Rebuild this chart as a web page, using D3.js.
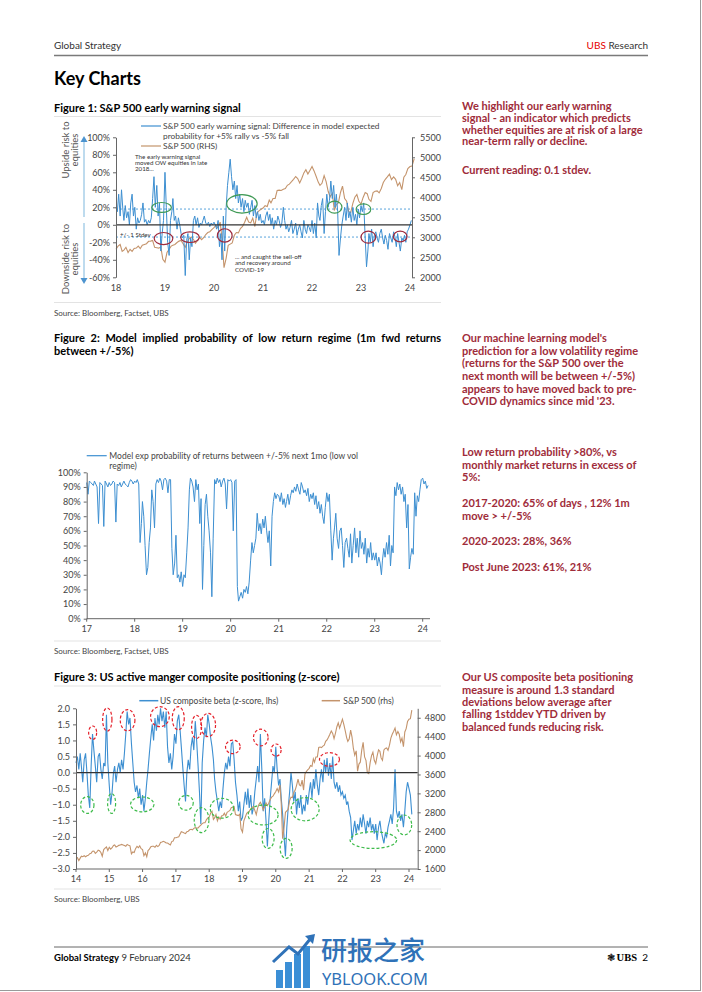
<!DOCTYPE html>
<html><head><meta charset="utf-8">
<script src="https://cdn.jsdelivr.net/npm/d3@7"></script>
<style>
html,body{margin:0;padding:0;background:#fff}
svg{display:block}
</style>
</head><body>
<svg id="page" width="702" height="992"></svg>
<script>
// ---------------- DATA ----------------
// S&P 500, twice a month (1st, 16th) from Jan 2014 to Feb 2024
const spx = [
1840,1840,1780,1830,1870,1860,1880,1860,1880,1890,1925,1935,1975,1980,1930,1955,2000,1985,1950,1870,2010,2040,2065,1990,
2060,2020,2050,2100,2110,2065,2080,2100,2110,2120,2110,2095,2080,2120,2100,2090,1920,1960,1950,2030,2080,2050,2090,2030,
2010,1880,1940,1860,1990,2020,2070,2080,2080,2060,2100,2075,2100,2160,2170,2185,2170,2150,2150,2130,2110,2180,2190,2260,
2260,2270,2280,2340,2390,2380,2360,2350,2390,2400,2430,2440,2430,2460,2475,2465,2470,2500,2530,2560,2580,2580,2640,2680,
2700,2780,2820,2650,2680,2750,2620,2700,2650,2720,2730,2780,2720,2800,2820,2840,2900,2905,2920,2750,2740,2730,2760,2450,
2380,2620,2700,2780,2800,2820,2870,2905,2920,2840,2750,2890,2970,3010,2950,2850,2920,3000,2940,2990,3070,3120,3140,3190,
3240,3300,3230,3380,2980,2240,2480,2800,2830,2860,3050,3120,3110,3220,3270,3370,3500,3380,3360,3480,3270,3610,3660,3700,
3730,3790,3770,3930,3860,3970,3970,4170,4180,4170,4200,4220,4300,4330,4390,4450,4520,4470,4360,4470,4610,4690,4580,4670,
4770,4660,4520,4380,4300,4350,4540,4390,4150,4010,4100,3670,3820,3860,4120,4280,3970,3900,3640,3620,3850,4000,4070,3900,
3830,3990,4120,4090,3950,3900,4120,4150,4160,4110,4220,4370,4450,4510,4580,4440,4510,4450,4290,4370,4190,4500,4570,4720,
4770,4780,4960];

// Figure 1: early warning signal (%), three readings a month from Jan 2018
const warnSignal = [
20,15,35,10,40,18,5,22,8,15,0,25,35,10,20,-5,8,2,5,12,25,3,6,0,5,2,8,30,55,20,45,10,25,-30,-10,5,
60,20,-20,-35,5,15,30,5,10,-5,8,0,-10,-15,-12,-58,-18,-10,-40,-15,-25,5,10,0,8,-3,2,0,5,10,2,0,3,-2,2,0,
3,0,-5,5,-25,-10,-40,10,-30,20,45,60,75,55,40,50,30,45,25,35,20,30,15,28,20,25,12,20,28,10,22,8,15,5,12,2,
5,0,10,15,5,12,0,8,-5,5,0,10,5,-3,2,20,5,-5,0,-8,-3,5,-10,-5,2,-12,-5,0,-8,-15,5,-5,-10,0,-3,-8,
5,-10,2,-15,25,10,5,22,30,-10,15,35,20,28,50,30,45,20,35,15,-35,-15,0,10,20,5,25,8,15,3,20,5,12,0,18,8,
22,15,25,-15,-48,-30,-10,-20,-5,-25,-12,-8,-15,-20,-10,-5,-15,-22,-12,-18,-28,-10,-15,-20,-8,-14,-25,-10,-20,-30,-15,-18,-12,-20,-8,-5,
0,5];
const stdevBand = [18, -14];
const fig1LeftTicks = [-60,-40,-20,0,20,40,60,80,100];
const fig1RightTicks = [2000,2500,3000,3500,4000,4500,5000,5500];
const fig1Years = [2018,2019,2020,2021,2022,2023,2024];
// ellipses: [year, value, half-width (yr), half-height (value)]
const fig1Green = [[2018.93,19.8,0.20,5.7],[2020.57,24,0.31,10.6],[2022.46,20.2,0.15,6.9],[2023.05,17.9,0.15,6.1]];
const fig1Red = [[2018.97,-15.7,0.19,6.9],[2019.51,-14.1,0.19,6.1],[2020.22,-12.2,0.15,7.7],[2023.15,-14.1,0.15,6.9],[2023.80,-13.4,0.14,6.1]];

// Figure 2: probability of low-return regime (%), three readings a month from Jan 2017
const lowVolProb = [
93,85,94,93,92,91,94,92,90,65,93,92,91,63,94,92,90,93,91,92,94,93,66,92,91,93,90,92,94,92,91,90,93,95,94,92,
94,93,95,92,52,65,80,70,50,30,35,52,62,88,80,62,92,95,93,96,94,88,95,96,94,86,95,95,48,30,38,57,28,30,25,32,
22,30,28,45,62,88,96,94,90,80,95,88,92,65,82,20,50,78,85,70,60,45,15,55,95,92,96,93,95,90,94,96,92,75,95,94,
95,93,60,94,95,22,12,15,18,14,20,18,22,17,25,40,52,45,50,55,72,60,65,58,68,62,70,60,52,60,36,70,80,86,82,85,
84,80,86,78,82,76,80,85,78,84,88,86,90,87,92,88,85,93,90,86,88,84,89,80,85,82,86,78,84,75,80,72,78,70,65,76,
86,80,85,60,40,55,62,72,55,48,60,62,50,35,52,55,48,42,58,38,50,62,45,55,42,60,48,52,44,55,38,48,42,52,40,45,
40,45,36,42,38,30,40,48,42,52,44,57,36,50,45,90,84,93,88,92,85,90,80,85,62,78,34,42,48,44,86,70,84,80,88,95,
96,92,94,89,91];
const fig2Ticks = [0,10,20,30,40,50,60,70,80,90,100];
const fig2Years = [2017,2018,2019,2020,2021,2022,2023,2024];

// Figure 3: US composite beta z-score, twice a month from Jan 2014
const betaZ = [
0.3,0.5,0.1,0.6,0.2,-0.3,0.4,0.6,0.0,-0.7,-1.1,0.2,1.2,0.7,0.2,-0.3,0.5,0.6,0.1,-0.2,0.3,0.2,1.8,0.3,
-0.4,-1.0,-0.6,0.0,0.2,-0.3,0.1,0.3,0.0,0.4,0.1,0.6,1.2,1.9,1.5,1.7,0.9,0.3,-0.3,-0.6,-0.4,-0.8,-0.5,-1.0,
-0.7,-1.2,-0.8,-0.3,0.1,0.6,1.1,1.5,1.0,1.7,1.3,1.8,1.5,2.0,1.6,1.9,1.4,1.9,0.8,0.3,0.6,0.1,0.5,1.2,
0.9,1.6,1.8,1.3,0.8,0.2,-0.4,-0.9,0.0,0.4,0.1,0.8,1.1,0.7,1.6,1.0,0.2,-0.6,-1.6,0.3,1.0,1.4,1.1,1.8,
1.5,1.1,0.8,0.4,-0.2,-0.6,-0.9,-1.2,-0.9,-1.1,-0.5,0.0,0.3,0.1,0.5,0.2,0.9,0.95,0.4,-0.3,-0.7,-1.2,-0.9,-1.5,
-1.4,-1.0,-0.6,-1.0,-0.5,-1.1,-0.7,-1.3,-1.1,-0.6,-0.2,0.2,-0.3,1.2,0.1,-1.2,-0.8,-1.5,-2.3,-1.5,-0.8,-0.3,0.2,0.0,
0.8,0.1,-0.4,-0.2,-0.8,-1.3,-2.0,-2.6,-1.7,-1.1,-0.6,0.0,-0.4,-0.9,-0.6,-1.3,-0.8,-1.1,-0.7,-1.3,-1.0,-1.2,-0.7,-1.0,
-0.6,-0.3,-0.8,-0.2,-0.5,0.1,-0.4,-0.7,-0.2,0.1,-0.3,0.4,0.0,0.45,-0.1,0.3,-0.2,0.5,-0.3,-0.5,-0.3,-0.6,-0.4,-0.7,
-0.6,-0.8,-0.7,-1.0,-0.9,-1.2,-1.4,-2.1,-1.8,-1.5,-1.9,-1.6,-1.8,-1.4,-1.7,-1.3,-1.6,-1.9,-1.5,-1.7,-1.4,-1.8,-1.6,-1.9,
-1.6,-2.1,-1.7,-1.5,-1.8,-2.0,-2.2,-1.9,-2.0,-1.7,-1.5,-1.3,-1.6,-1.1,0.1,-1.2,-1.4,-1.2,-1.5,-1.3,-1.7,-1.2,-0.6,-0.3,
-0.5,-0.7,-1.3];
const fig3LeftTicks = [-3.0,-2.5,-2.0,-1.5,-1.0,-0.5,0.0,0.5,1.0,1.5,2.0];
const fig3RightTicks = [1600,2000,2400,2800,3200,3600,4000,4400,4800];
const fig3Years = [2014,2015,2016,2017,2018,2019,2020,2021,2022,2023,2024];
const fig3Red = [[2014.50,1.24,0.12,0.21],[2014.94,1.65,0.14,0.36],[2015.55,1.63,0.22,0.33],[2016.52,1.74,0.28,0.31],
  [2017.07,1.69,0.18,0.36],[2017.62,1.42,0.15,0.36],[2017.97,1.48,0.22,0.36],[2018.71,0.80,0.22,0.21],
  [2019.55,1.09,0.22,0.26],[2020.01,0.70,0.15,0.19],[2021.61,0.41,0.30,0.21]];
const fig3Green = [[2014.34,-1.01,0.20,0.26],[2015.07,-0.96,0.12,0.31],[2015.99,-0.99,0.35,0.23],[2017.30,-0.94,0.22,0.23],
  [2017.77,-1.48,0.22,0.39],[2018.38,-1.11,0.35,0.31],[2019.62,-1.32,0.45,0.31],[2019.77,-2.05,0.18,0.31],
  [2020.31,-2.36,0.18,0.31],[2020.88,-1.14,0.42,0.36],[2022.93,-2.10,0.70,0.26],[2023.86,-1.63,0.22,0.31]];

// ---------------- HELPERS ----------------
const FONT = "Lato, 'Open Sans', 'Noto Sans', sans-serif";
const BLUE = '#3d8fd1', BROWN = '#c4946c', AXIS = '#666', TXT = '#444', RED_TXT = '#a02c3a';
const svg = d3.select('#page');
const spxDate = i => new Date(2014, Math.floor(i/2), i%2 ? 16 : 1);
const triDate = (y0, i) => new Date(y0, Math.floor(i/3), 1 + (i%3)*10);
const yd = y => { const f = Math.floor(y); const a = new Date(f,0,1), b = new Date(f+1,0,1); return new Date(+a + (y-f)*(b-a)); };

function txt(x, y, s, o = {}) {
  const t = svg.append('text').attr('x', x).attr('y', y).text(s)
    .attr('font-family', o.family || FONT).attr('font-size', o.size || 10)
    .attr('fill', o.fill || '#000').attr('font-weight', o.weight || 400)
    .attr('dominant-baseline', 'central');
  if (o.anchor) t.attr('text-anchor', o.anchor);
  return t;
}
function hline(x1, x2, y, color, w, dash) {
  const l = svg.append('line').attr('x1', x1).attr('x2', x2).attr('y1', y).attr('y2', y)
    .attr('stroke', color).attr('stroke-width', w || 1);
  if (dash) l.attr('stroke-dasharray', dash);
  return l;
}
function vline(x, y1, y2, color, w) {
  return svg.append('line').attr('x1', x).attr('x2', x).attr('y1', y1).attr('y2', y2)
    .attr('stroke', color).attr('stroke-width', w || 1);
}
function justify(words, x0, x1, y, o) {
  const nodes = words.map(w => txt(0, y, w, o));
  const ws = nodes.map(n => n.node().getComputedTextLength());
  const gap = (x1 - x0 - d3.sum(ws)) / (words.length - 1);
  let x = x0;
  nodes.forEach((n, i) => { n.attr('x', x); x += ws[i] + gap; });
}
function lines(x, ys, arr, o) { arr.forEach((s, i) => txt(x, ys[i], s, o)); }
function yAxis(scale, ticks, x, side, fmt, o = {}) {
  const ax = (side === 'left' ? d3.axisLeft(scale) : d3.axisRight(scale))
    .tickValues(ticks).tickFormat(fmt).tickSize(3).tickSizeOuter(0).tickPadding(o.pad || 3);
  const g = svg.append('g').attr('transform', `translate(${x},0)`).call(ax);
  g.select('.domain').attr('stroke', AXIS);
  g.selectAll('.tick line').attr('stroke', AXIS);
  g.selectAll('text').attr('font-family', FONT).attr('font-size', o.size || 9).attr('fill', TXT);
  return g;
}
function xLabels(scale, years, y, o = {}) {
  years.forEach(yr => txt(scale(new Date(yr,0,1)), y, String(yr).slice(2), {size: o.size || 9, fill: TXT, anchor: 'middle'}));
}
function ellipses(list, xs, ys, color, dash, w) {
  list.forEach(([cx, cy, rx, ry]) => {
    const px = xs(yd(cx)), py = ys(cy);
    const e = svg.append('ellipse').attr('cx', px).attr('cy', py)
      .attr('rx', Math.abs(xs(yd(cx + rx)) - px)).attr('ry', Math.abs(ys(cy + ry) - py))
      .attr('fill', 'none').attr('stroke', color).attr('stroke-width', w || 1.2);
    if (dash) e.attr('stroke-dasharray', dash);
  });
}

// ---------------- PAGE FRAME ----------------
vline(700.5, 0, 991, '#9a9a9a', 1);
hline(0, 701, 990.5, '#9a9a9a', 1);
txt(54, 45, 'Global Strategy', {size: 10, fill: '#333'});
const hdr = txt(648, 45, '', {size: 10, fill: '#333', anchor: 'end'});
hdr.append('tspan').attr('fill', '#e60000').text('UBS');
hdr.append('tspan').text(' Research');
hline(54, 648, 55.5, '#7a7a7a', 1.5);
txt(54, 78, 'Key Charts', {size: 18, weight: 700});

// ---------------- FIGURE 1 ----------------
const TITLE = {size: 11, weight: 700};
const SIDE = {size: 11, weight: 700, fill: RED_TXT};
txt(54, 107.5, 'Figure 1: S&P 500 early warning signal', TITLE);
hline(54, 441, 116.5, '#e3e3e3', 1);
lines(462, [105.5, 117.5, 129, 140.5, 169], ['We highlight our early warning', 'signal - an indicator which predicts',
  'whether equities are at risk of a large', 'near-term rally or decline.', 'Current reading: 0.1 stdev.'], SIDE);

const x1 = d3.scaleTime().domain([new Date(2018,0,1), new Date(2024,0,1)]).range([116, 410]);
const y1 = d3.scaleLinear().domain([-60, 100]).range([277.3, 137.3]);
const y1r = d3.scaleLinear().domain([2000, 5500]).range([277.3, 137.3]);

stdevBand.forEach(v => hline(116, 412, y1(v), '#5aa5dc', 1, '2,2'));
const spx1 = spx.map((v, i) => [spxDate(i), v]).filter(d => d[0] >= new Date(2018,0,1));
svg.append('path').datum(spx1).attr('fill', 'none').attr('stroke', BROWN).attr('stroke-width', 1.1)
  .attr('d', d3.line().x(d => x1(d[0])).y(d => y1r(d[1])));
svg.append('path').datum(warnSignal).attr('fill', 'none').attr('stroke', BLUE).attr('stroke-width', 1)
  .attr('d', d3.line().x((d, i) => x1(triDate(2018, i))).y(d => y1(d)));
hline(116, 412, y1(0), '#333', 1.3);
yAxis(y1, fig1LeftTicks, 116, 'left', d => d + '%');
yAxis(y1r, fig1RightTicks, 412, 'right', d => d, {pad: 5});
xLabels(x1, fig1Years, 287);
ellipses(fig1Green, x1, y1, '#3f9a55', null, 1.2);
ellipses(fig1Red, x1, y1, '#9e2a3c', null, 1.2);

// axis titles & arrows
[['Upside risk to', 65, 150], ['equities', 74, 150], ['Downside risk to', 65, 259], ['equities', 74, 259]].forEach(([s, x, y]) =>
  txt(0, 0, s, {size: 9.5, fill: '#555', anchor: 'middle'}).attr('x', null).attr('y', null)
    .attr('transform', `translate(${x},${y}) rotate(-90)`));
vline(84, 141, 217, '#a9cfe9', 1.5);
vline(84, 223, 279, '#a9cfe9', 1.5);
svg.append('path').attr('d', 'M80.5,142 L87.5,142 L84,136 Z').attr('fill', '#4d94cf');
svg.append('path').attr('d', 'M80.5,278 L87.5,278 L84,284 Z').attr('fill', '#4d94cf');

// legend
hline(141, 161, 126, BLUE, 1.2);
lines(163, [126, 136], ['S&P 500 early warning signal: Difference in model expected', 'probability for +5% rally vs -5% fall'], {size: 8.3, fill: TXT});
hline(141, 161, 146, BROWN, 1.2);
txt(163, 146, 'S&P 500 (RHS)', {size: 8.3, fill: TXT});
// annotations
lines(135, [156, 162.3, 168.6], ['The early warning signal', 'moved OW equities in late', '2018...'], {size: 6.2, fill: '#333'});
lines(235, [256, 262.5, 269], ['... and caught the sell-off', 'and recovery around', 'COVID-19'], {size: 6.2, fill: '#333'});
txt(120, 234.3, '+/- 1 Stdev', {size: 6.2, fill: '#333'});

hline(54, 441, 302.5, '#e3e3e3', 1);
txt(54, 313.3, 'Source: Bloomberg, Factset, UBS', {size: 8, fill: '#444'});

// ---------------- FIGURE 2 ----------------
justify('Figure 2: Model implied probability of low return regime (1m fwd returns'.split(' '), 54, 441, 337.3, TITLE);
txt(54, 350.7, 'between +/-5%)', TITLE);
lines(462, [337.3, 350, 362.7, 375.3, 388, 400.7], ["Our machine learning model's", 'prediction for a low volatility regime',
  '(returns for the S&P 500 over the', 'next month will be between +/-5%)', 'appears to have moved back to pre-', "COVID dynamics since mid '23."], SIDE);
lines(462, [451.7, 464.3, 476.7, 502.7, 515, 540.7, 566], ['Low return probability >80%, vs', 'monthly market returns in excess of', '5%:',
  '2017-2020: 65% of days , 12% 1m', 'move > +/-5%', '2020-2023: 28%, 36%', 'Post June 2023: 61%, 21%'], SIDE);

const x2 = d3.scaleTime().domain([new Date(2017,0,1), new Date(2024,0,1)]).range([86.7, 422.7]);
const y2 = d3.scaleLinear().domain([0, 100]).range([618.7, 472.3]);
svg.append('path').datum(lowVolProb).attr('fill', 'none').attr('stroke', BLUE).attr('stroke-width', 1)
  .attr('d', d3.line().x((d, i) => x2(triDate(2017, i))).y(d => y2(d)));
yAxis(y2, fig2Ticks, 86.7, 'left', d => d + '%');
hline(86.7, 430, 618.7, AXIS, 1);
fig2Years.forEach(yr => vline(x2(new Date(yr,0,1)), 618.7, 621.7, AXIS, 1));
xLabels(x2, fig2Years, 628.5);
hline(86.7, 106.7, 455.7, BLUE, 1.2);
lines(109.3, [455.7, 465.7], ['Model exp probability of returns between +/-5% next 1mo (low vol', 'regime)'], {size: 8.5, fill: TXT});

hline(54, 441, 641, '#e3e3e3', 1);
txt(54, 651, 'Source: Bloomberg, Factset, UBS', {size: 8, fill: '#444'});

// ---------------- FIGURE 3 ----------------
txt(54, 676.7, 'Figure 3: US active manger composite positioning (z-score)', TITLE);
hline(54, 441, 686, '#e3e3e3', 1);
lines(462, [676.7, 689, 701.3, 713.6, 726], ['Our US composite beta positioning', 'measure is around 1.3 standard',
  'deviations below average after', 'falling 1stddev YTD driven by', 'balanced funds reducing risk.'], SIDE);

const x3 = d3.scaleTime().domain([new Date(2014,0,1), new Date(2024,0,1)]).range([76, 409]);
const y3 = d3.scaleLinear().domain([-3, 2]).range([869, 708.3]);
const y3r = d3.scaleLinear().domain([1600, 5000]).range([869, 708.3]);
svg.append('path').datum(betaZ).attr('fill', 'none').attr('stroke', BLUE).attr('stroke-width', 1.1)
  .attr('d', d3.line().x((d, i) => x3(spxDate(i))).y(d => y3(d)));
svg.append('path').datum(spx).attr('fill', 'none').attr('stroke', BROWN).attr('stroke-width', 1.1)
  .attr('d', d3.line().x((d, i) => x3(spxDate(i))).y(d => y3r(d)));
hline(76, 417.7, y3(0), '#333', 1.2);
yAxis(y3, fig3LeftTicks, 76, 'left', d3.format('.1f'));
yAxis(y3r, fig3RightTicks, 417.7, 'right', d => d, {pad: 4});
hline(76, 417.7, 869, AXIS, 1);
fig3Years.forEach(yr => vline(x3(new Date(yr,0,1)), 869, 872, AXIS, 1));
xLabels(x3, fig3Years, 878.3);
ellipses(fig3Red, x3, y3, '#e4202a', '3,2', 1.2);
ellipses(fig3Green, x3, y3, '#3dbb4a', '3,2', 1.2);
hline(139.3, 158.3, 700.7, BLUE, 1.5);
txt(160, 700.7, 'US composite beta (z-score, lhs)', {size: 8.5, fill: TXT});
hline(321.7, 340, 700.7, BROWN, 1.5);
txt(343.3, 700.7, 'S&P 500 (rhs)', {size: 8.5, fill: TXT});

hline(54, 441, 889, '#e3e3e3', 1);
txt(54, 899.3, 'Source: Bloomberg, UBS', {size: 8, fill: '#444'});

// ---------------- FOOTER ----------------
hline(54, 648, 947, '#666', 1);
const ft = txt(54, 957, '', {size: 9.5, fill: '#000'});
ft.append('tspan').attr('font-weight', 700).text('Global Strategy');
ft.append('tspan').attr('fill', '#333').text('  9 February 2024');
txt(648, 957, '2', {size: 10, fill: '#000', anchor: 'end'});
txt(637, 957, 'UBS', {size: 10.5, fill: '#000', anchor: 'end', weight: 700, family: "'Liberation Serif', serif"});
txt(615, 957, '\u2743', {size: 10, fill: '#000', anchor: 'end'});

// watermark
const WM = '#2f72b8';
[[276,970],[285,962],[294,954],[303,946]].forEach(([x, t]) =>
  svg.append('rect').attr('x', x).attr('y', t).attr('width', 7).attr('height', 988 - t).attr('fill', '#3b8fd6'));
svg.append('path').attr('d', 'M273,962 L289,947 L298,954 L311,938').attr('fill', 'none').attr('stroke', WM).attr('stroke-width', 3);
svg.append('path').attr('d', 'M305,936 L315,934 L313,944 Z').attr('fill', WM);
txt(321, 948, '研报之家', {size: 26, fill: WM, family: "'Noto Sans CJK SC', sans-serif", weight: 500});
txt(322, 978, 'YBLOOK.COM', {size: 16.5, fill: WM, family: "'Noto Sans', 'Open Sans', sans-serif"});
</script>
</body></html>
